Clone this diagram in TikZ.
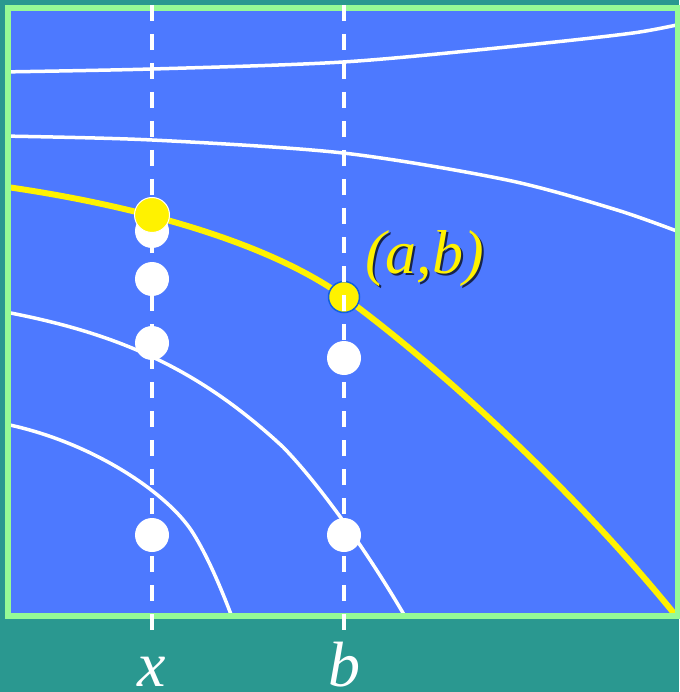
\documentclass[tikz,border=0pt]{standalone}
\usepackage{fontspec}
\setmainfont{Liberation Serif}
\definecolor{teal0}{RGB}{42,152,144}
\definecolor{blue0}{RGB}{77,121,255}
\definecolor{green0}{RGB}{150,250,150}
\definecolor{dotline}{RGB}{16,96,224}
\begin{document}
\begin{tikzpicture}[x=1pt,y=-1pt,
  curve/.style={white, line width=3.5pt},
  ycurve/.style={yellow, line width=6pt},
  wdot/.style={circle, fill=white, inner sep=0pt, minimum size=34pt},
  ydotA/.style={circle, fill=yellow, draw=white, line width=1pt, inner sep=0pt, minimum size=35pt},
  ydotB/.style={circle, fill=yellow, draw=dotline, line width=1.5pt, inner sep=0pt, minimum size=31pt},
  guide/.style={white, line width=4pt, dash pattern=on 16pt off 13pt},
  axlbl/.style={inner sep=0pt, anchor=base, text depth=0pt, font=\fontsize{64}{70}\selectfont\itshape, text=white},
  ptlbl/.style={inner sep=0pt, anchor=base west, font=\fontsize{62}{68}\selectfont\itshape}]
\fill[teal0] (0,0) rectangle (679,692);
\useasboundingbox (0,0) rectangle (679,692);
\fill[blue0] (8,8) rectangle (678,616);
\begin{scope}
  \clip (8,8) rectangle (678,616);
  \draw[curve] plot[smooth] coordinates {(0,72) (152,69) (343,62) (507,47) (633,33) (690,22)};
  \draw[curve] plot[smooth] coordinates {(0,136) (152,140) (343,153) (507,180) (617,210) (690,236)};
  \draw[curve] (0,311) .. controls (120,333) and (200,370) .. (283,447)
               .. controls (320,485) and (370,555) .. (410,625);
  \draw[curve] (0,423) .. controls (90,440) and (168,493) .. (193,533)
               .. controls (208,557) and (222,590) .. (235,625);
  \draw[ycurve] (0,186) .. controls (150,207) and (275,247) .. (344,297)
               .. controls (410,345) and (560,470) .. (685,627);
\end{scope}
\draw[green0, line width=6pt] (8,8) rectangle (678,616);
\node[ydotB] (ab) at (344,297) {};
\coordinate (xt) at (152,5);
\coordinate (xb) at (152,632);
\coordinate (bt) at (344,5);
\coordinate (bb) at (344,632);
\draw[guide] (xt) -- (xb);
\draw[guide] (bt) -- (bb);
\node[wdot] (x1) at (152,231) {};
\node[wdot] (x2) at (152,279) {};
\node[wdot] (x3) at (152,343) {};
\node[wdot] (x4) at (152,535) {};
\node[wdot] (b1) at (344,358) {};
\node[wdot] (b2) at (344,535) {};
\node[ydotA] (xy) at (152,215) {};
\node[ptlbl, text=black, opacity=0.7] (abs) at (367,275) {(a,b)};
\node[ptlbl, text=yellow] (abl) at (365,273) {(a,b)};
\node[axlbl] (xl) at (152,686) {x};
\node[axlbl] (bl) at (344,686) {b};
\end{tikzpicture}
\end{document}
